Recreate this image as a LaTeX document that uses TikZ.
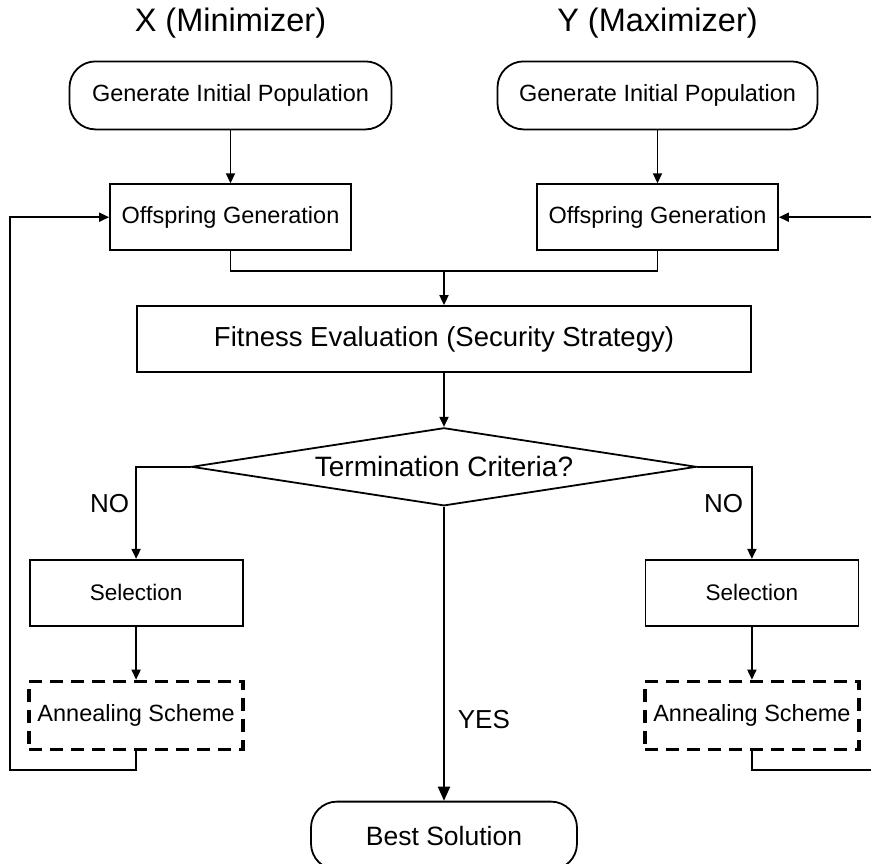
\documentclass[tikz,border=0pt]{standalone}
\usepackage{fontspec}
\setmainfont{Liberation Sans}
\usetikzlibrary{arrows.meta,positioning,shapes.geometric}

\tikzset{
	procbox/.style={draw,rectangle,line width=1.8pt,inner sep=0pt,minimum height=66pt,align=center},
	termbox/.style={draw,rectangle,rounded corners=26pt,line width=1.8pt,inner sep=0pt,minimum height=68pt,align=center},
	annealbox/.style={draw,rectangle,line width=3.4pt,dash pattern=on 13pt off 8pt,inner sep=0pt,minimum width=214pt,minimum height=68pt,font=\fontsize{23.5}{27}\selectfont},
	decide/.style={draw,diamond,aspect=6.5,line width=1.8pt,inner sep=0pt,minimum width=505pt,minimum height=78pt,font=\fontsize{28}{32}\selectfont},
	conn/.style={line width=1.8pt,-{Triangle[length=10pt,width=9pt]}},
	wire/.style={line width=1.8pt},
	lbl/.style={font=\fontsize{26}{30}\selectfont,inner sep=0pt},
}

\begin{document}
\begin{tikzpicture}[x=1pt,y=-1pt]
\useasboundingbox (0,0) rectangle (871,863);

\node[procbox,minimum width=614pt,font=\fontsize{27.5}{32}\selectfont] (fit) at (444,339) {Fitness Evaluation (Security Strategy)};

\node[procbox,minimum width=241pt,font=\fontsize{23.5}{27}\selectfont,above=54pt of fit,xshift=-213.5pt] (offL) {Offspring Generation};
\node[procbox,minimum width=241pt,font=\fontsize{23.5}{27}\selectfont,above=54pt of fit,xshift=213.5pt] (offR) {Offspring Generation};

\node[termbox,minimum width=322pt,font=\fontsize{23.5}{27}\selectfont,above=53pt of offL] (initL) {Generate Initial Population};
\node[termbox,minimum width=320pt,font=\fontsize{23.5}{27}\selectfont,above=53pt of offR] (initR) {Generate Initial Population};

\node[lbl,font=\fontsize{32.5}{37}\selectfont,above=22pt of initL] (ttlX) {X (Minimizer)};
\node[lbl,font=\fontsize{32.5}{37}\selectfont,above=22pt of initR] (ttlY) {Y (Maximizer)};

\node[decide,below=54pt of fit] (term) {Termination Criteria?};

\node[procbox,minimum width=213pt,font=\fontsize{22.5}{26}\selectfont,below=186pt of fit.south west] (selL) {Selection};
\node[procbox,minimum width=213pt,font=\fontsize{22.5}{26}\selectfont,below=186pt of fit.south east] (selR) {Selection};

\node[annealbox,below=53pt of selL] (annL) {Annealing Scheme};
\node[annealbox,below=53pt of selR] (annR) {Annealing Scheme};

\node[termbox,minimum width=266pt,font=\fontsize{26.5}{30}\selectfont,below=294pt of term] (best) {Best Solution};

% merge and return points
\coordinate[above=34pt of fit.north] (join);
\coordinate[below left=19pt and 126pt of annL.south] (retL);
\coordinate[below right=19pt and 126pt of annR.south] (retR);

\draw[conn] (initL) -- (offL);
\draw[conn] (initR) -- (offR);
\draw[wire] (offL.south) |- (join);
\draw[wire] (offR.south) |- (join);
\draw[conn] (join) -- (fit.north);
\draw[conn] (fit.south) -- (term.north);

\draw[conn] (term.west) -| node[lbl,pos=0.7,left=6pt] {NO} (selL.north);
\draw[conn] (term.east) -| node[lbl,pos=0.7,left=8pt] {NO} (selR.north);
\draw[conn,-{Triangle[length=14pt,width=12pt]}] (term.south) -- node[lbl,pos=0.724,right=13pt] {YES} (best.north);

\draw[conn] (selL) -- (annL);
\draw[conn] (selR) -- (annR);

\draw[conn] (annL.south) |- (retL) |- (offL.west);
\draw[conn] (annR.south) |- (retR) |- (offR.east);

\end{tikzpicture}
\end{document}
